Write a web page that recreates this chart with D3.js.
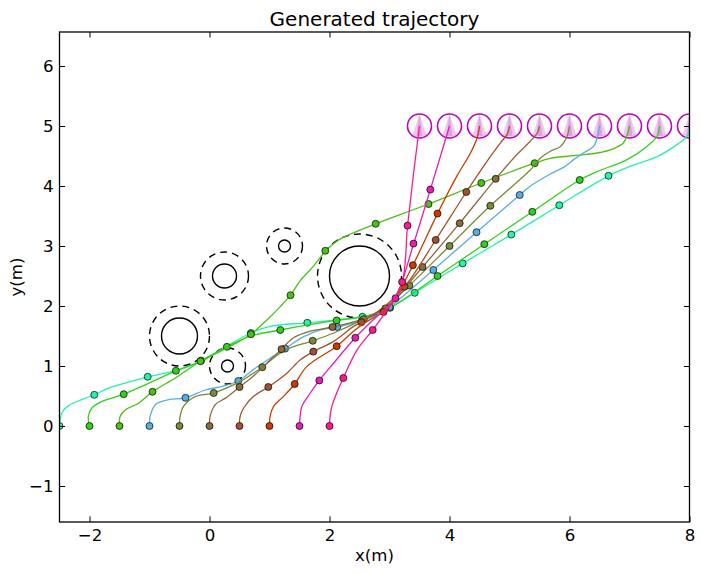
<!DOCTYPE html>
<html lang="en">
<head>
  <meta charset="UTF-8" />
  <title>Generated trajectory</title>
  <script src="https://d3js.org/d3.v7.min.js"></script>
  <style>
    body { margin: 0; background: #fff; }
    svg { display: block; font-family: "DejaVu Sans", sans-serif; }
  </style>
</head>
<body>
  <svg id="chart" width="702" height="574"></svg>

  <script>
    // axis ticks
    const xTicks = [-2, 0, 2, 4, 6, 8];
    const yTicks = [-1, 0, 1, 2, 3, 4, 5, 6];

    // obstacles: centre, solid radius, dashed (safety) radius
    const obstacleX = [2.5, -0.5, 0.25, 1.25, 0.3];
    const obstacleY = [2.5, 1.5, 2.5, 3.0, 1.0];
    const obstacleR = [0.5, 0.3, 0.2, 0.1, 0.1];
    const safetyR   = [0.7, 0.5, 0.4, 0.3, 0.3];

    // goals
    const goalX = [3.5, 4, 4.5, 5, 5.5, 6, 6.5, 7, 7.5, 8];
    const goalY = 5;
    const goalR = 0.2;

    // trajectory colours, start x = -2.5 ... 2
    const trajColors = ["#22f5a6", "#2fd11c", "#4bc114", "#5aade0", "#7a8a3a",
                        "#8b6a3e", "#a3522b", "#c83c00", "#e61eb4", "#ff1a8c"];

    // paths
    const path0 = [[-2.5,0],[-2.46,0.22],[-2.35,0.34],[-2.13,0.44],[-1.92,0.52],[-1.68,0.63],[-1.35,0.73],[-1.03,0.82],[-0.74,0.88],[-0.35,0.99],[-0.14,1.09],[0.2,1.28],[0.69,1.55],[1.01,1.66],[1.63,1.72],[2.12,1.77],[2.55,1.82],[2.85,1.9],[3.05,2.0],[3.42,2.22],[4.22,2.71],[5.03,3.19],[5.83,3.68],[6.65,4.17],[7.01,4.33],[7.46,4.49],[7.79,4.69],[7.96,4.83],[8,5]];
    const marks0 = [[-2.5,0],[-1.92,0.52],[-1.03,0.82],[-0.14,1.09],[0.69,1.55],[1.63,1.72],[2.55,1.82],[3.42,2.22],[4.22,2.71],[5.03,3.19],[5.83,3.68],[6.65,4.17]];

    const path1 = [[-2,0],[-2.02,0.16],[-1.96,0.3],[-1.79,0.41],[-1.43,0.53],[-1.13,0.66],[-0.56,0.92],[-0.1,1.1],[0.29,1.32],[0.69,1.5],[1.18,1.6],[1.62,1.68],[2.12,1.76],[2.6,1.83],[3.01,1.97],[3.8,2.5],[4.58,3.03],[5.38,3.57],[6.17,4.1],[6.46,4.24],[6.96,4.44],[7.29,4.66],[7.46,4.83],[7.5,5]];
    const marks1 = [[-2,0],[-1.43,0.53],[-0.56,0.92],[0.29,1.32],[1.18,1.6],[2.12,1.76],[3.01,1.97],[3.8,2.5],[4.58,3.03],[5.38,3.57],[6.17,4.1]];

    const path2 = [[-1.5,0],[-1.49,0.16],[-1.4,0.27],[-1.18,0.38],[-0.95,0.57],[-0.57,0.8],[-0.15,1.08],[0.29,1.3],[0.69,1.53],[0.96,1.77],[1.18,1.99],[1.35,2.18],[1.51,2.42],[1.73,2.66],[1.93,2.91],[2.12,3.08],[2.35,3.2],[2.77,3.37],[3.65,3.7],[4.53,4.05],[5.42,4.38],[5.68,4.46],[6.12,4.51],[6.46,4.55],[6.73,4.62],[6.9,4.72],[6.97,4.88],[7,5]];
    const marks2 = [[-1.5,0],[-0.95,0.57],[-0.15,1.08],[0.69,1.53],[1.35,2.18],[1.93,2.92],[2.77,3.37],[3.65,3.7],[4.53,4.05],[5.42,4.38]];

    const path3 = [[-1,0],[-0.99,0.16],[-0.9,0.36],[-0.68,0.44],[-0.4,0.47],[-0.07,0.6],[0.21,0.66],[0.48,0.75],[0.73,0.94],[1.01,1.13],[1.26,1.29],[1.57,1.49],[1.84,1.6],[2.13,1.65],[2.55,1.76],[2.85,1.88],[3.0,1.98],[3.73,2.6],[4.45,3.23],[5.17,3.85],[5.35,4.0],[5.68,4.2],[5.9,4.31],[6.07,4.44],[6.23,4.55],[6.4,4.66],[6.47,4.83],[6.5,5]];
    const marks3 = [[-1,0],[-0.4,0.47],[0.48,0.75],[1.26,1.29],[2.13,1.65],[3.0,1.98],[3.73,2.6],[4.45,3.23],[5.17,3.85]];

    const path4 = [[-0.5,0],[-0.49,0.16],[-0.43,0.33],[-0.24,0.49],[0.07,0.55],[0.3,0.64],[0.51,0.74],[0.7,0.86],[0.88,0.98],[1.1,1.16],[1.29,1.28],[1.72,1.42],[2.07,1.55],[2.57,1.78],[2.95,1.99],[3.33,2.34],[4.0,3.0],[4.68,3.67],[5.35,4.27],[5.52,4.47],[5.68,4.58],[5.85,4.66],[5.96,4.83],[6,5]];
    const marks4 = [[-0.5,0],[0.07,0.55],[0.88,0.98],[1.72,1.42],[2.57,1.78],[3.33,2.34],[4.0,3.0],[4.68,3.67]];

    const path5 = [[0,0],[0.01,0.16],[0.1,0.36],[0.26,0.46],[0.5,0.65],[0.73,0.83],[1.01,1.1],[1.2,1.28],[1.4,1.47],[1.68,1.58],[2.05,1.65],[2.51,1.77],[2.93,1.96],[3.55,2.65],[4.17,3.38],[4.77,4.12],[5.12,4.52],[5.35,4.75],[5.46,4.88],[5.5,5]];
    const marks5 = [[0,0],[0.5,0.65],[1.2,1.28],[2.05,1.65],[2.93,1.96],[3.55,2.65],[4.17,3.38],[4.77,4.12]];

    const path6 = [[0.5,0],[0.51,0.16],[0.57,0.3],[0.73,0.49],[0.98,0.65],[1.29,0.88],[1.51,1.1],[1.73,1.24],[2.07,1.41],[2.4,1.66],[2.53,1.73],[2.85,1.94],[3.25,2.32],[3.77,3.1],[4.28,3.9],[4.68,4.49],[4.85,4.72],[4.96,4.86],[5,5]];
    const marks6 = [[0.5,0],[0.98,0.65],[1.73,1.24],[2.53,1.73],[3.25,2.32],[3.77,3.1],[4.28,3.9]];

    const path7 = [[1,0],[1.01,0.16],[1.07,0.33],[1.23,0.49],[1.42,0.7],[1.62,0.99],[2.12,1.33],[2.4,1.58],[2.62,1.74],[2.9,1.9],[3.05,2.05],[3.39,2.68],[3.8,3.54],[4.12,4.16],[4.35,4.55],[4.46,4.8],[4.5,5]];
    const marks7 = [[1,0],[1.42,0.7],[2.12,1.33],[2.9,1.9],[3.39,2.68],[3.8,3.54]];

    const path8 = [[1.5,0],[1.51,0.16],[1.54,0.33],[1.68,0.55],[1.83,0.76],[2.07,1.05],[2.43,1.47],[2.73,1.77],[2.95,1.97],[3.1,2.13],[3.4,3.03],[3.68,3.94],[3.85,4.5],[4,5]];
    const marks8 = [[1.5,0],[1.83,0.76],[2.43,1.47],[3.1,2.13],[3.4,3.04],[3.68,3.94]];

    const path9 = [[2,0],[2.01,0.16],[2.04,0.33],[2.12,0.55],[2.23,0.8],[2.46,1.27],[2.72,1.6],[2.96,1.94],[3.21,2.4],[3.3,3.33],[3.4,4.2],[3.5,5]];
    const marks9 = [[2,0],[2.23,0.8],[2.72,1.6],[3.21,2.4],[3.3,3.34]];

    const paths = [path0, path1, path2, path3, path4, path5, path6, path7, path8, path9];
    const marks = [marks0, marks1, marks2, marks3, marks4, marks5, marks6, marks7, marks8, marks9];

    const svg = d3.select("#chart");
    const plotLeft = 59.5, plotRight = 689.5, plotTop = 32, plotBottom = 522;

    const x = d3.scaleLinear().domain([-2.5, 8]).range([plotLeft, plotRight]);
    const y = d3.scaleLinear().domain([-1.6, 6.5667]).range([plotBottom, plotTop]);
    const unit = x(1) - x(0);

    svg.append("defs").append("clipPath").attr("id", "plot-clip")
      .append("rect").attr("x", plotLeft).attr("y", plotTop)
      .attr("width", plotRight - plotLeft).attr("height", plotBottom - plotTop);

    const plot = svg.append("g").attr("clip-path", "url(#plot-clip)");

    // obstacles
    const obs = obstacleX.map((d, i) => ({ x: d, y: obstacleY[i], r: obstacleR[i], s: safetyR[i] }));
    plot.selectAll("circle.safety").data(obs).join("circle")
      .attr("class", "safety")
      .attr("cx", d => x(d.x)).attr("cy", d => y(d.y)).attr("r", d => d.s * unit)
      .attr("fill", "none").attr("stroke", "#000").attr("stroke-width", 1.4)
      .attr("stroke-dasharray", "7,5");
    plot.selectAll("circle.obstacle").data(obs).join("circle")
      .attr("class", "obstacle")
      .attr("cx", d => x(d.x)).attr("cy", d => y(d.y)).attr("r", d => d.r * unit)
      .attr("fill", "none").attr("stroke", "#000").attr("stroke-width", 1.4);

    // goals with heading cone
    const goals = plot.selectAll("g.goal").data(goalX).join("g").attr("class", "goal");
    goals.append("path")
      .attr("d", d => `M${x(d)},${y(goalY + goalR)}L${x(d - 0.12)},${y(goalY - goalR + 0.03)}L${x(d + 0.12)},${y(goalY - goalR + 0.03)}Z`)
      .attr("fill", "#efc6ef");
    goals.append("path")
      .attr("d", d => `M${x(d)},${y(goalY + goalR)}L${x(d - 0.05)},${y(goalY - goalR + 0.03)}L${x(d + 0.05)},${y(goalY - goalR + 0.03)}Z`)
      .attr("fill", "#dfa2df");
    goals.append("circle")
      .attr("cx", d => x(d)).attr("cy", y(goalY)).attr("r", goalR * unit)
      .attr("fill", "none").attr("stroke", "#bf00bf").attr("stroke-width", 1.6);

    // trajectories
    const line = d3.line().x(d => x(d[0])).y(d => y(d[1])).curve(d3.curveCatmullRom.alpha(0.5));
    paths.forEach((p, i) => {
      const t = plot.append("g").attr("class", "traj");
      t.append("path").attr("d", line(p))
        .attr("fill", "none").attr("stroke", trajColors[i]).attr("stroke-width", 1.3);
      t.selectAll("circle").data(marks[i]).join("circle")
        .attr("cx", d => x(d[0])).attr("cy", d => y(d[1])).attr("r", 3.5)
        .attr("fill", trajColors[i]).attr("stroke", "#000").attr("stroke-width", 0.7);
    });

    // axes, ticks pointing inwards on all four sides
    const fmt = d => d < 0 ? "\u2212" + Math.abs(d) : String(d);
    const styleAxis = g => {
      g.select(".domain").remove();
      g.selectAll(".tick line").attr("stroke", "#000").attr("stroke-width", 1);
      g.attr("font-size", 16.6).attr("font-family", "DejaVu Sans");
      g.selectAll("text").attr("fill", "#000");
    };
    svg.append("g").attr("transform", `translate(0,${plotBottom})`)
      .call(d3.axisBottom(x).tickValues(xTicks).tickSizeInner(-5.6).tickSizeOuter(0).tickPadding(7).tickFormat(fmt))
      .call(styleAxis);
    svg.append("g").attr("transform", `translate(0,${plotTop})`)
      .call(d3.axisTop(x).tickValues(xTicks).tickSizeInner(-5.6).tickSizeOuter(0).tickFormat(""))
      .call(styleAxis);
    svg.append("g").attr("transform", `translate(${plotLeft},0)`)
      .call(d3.axisLeft(y).tickValues(yTicks).tickSizeInner(-5.6).tickSizeOuter(0).tickPadding(6).tickFormat(fmt))
      .call(styleAxis);
    svg.append("g").attr("transform", `translate(${plotRight},0)`)
      .call(d3.axisRight(y).tickValues(yTicks).tickSizeInner(-5.6).tickSizeOuter(0).tickFormat(""))
      .call(styleAxis);

    svg.append("rect").attr("x", plotLeft).attr("y", plotTop)
      .attr("width", plotRight - plotLeft).attr("height", plotBottom - plotTop)
      .attr("fill", "none").attr("stroke", "#000").attr("stroke-width", 1.3);

    // labels
    svg.append("text").attr("x", (plotLeft + plotRight) / 2).attr("y", 25.5)
      .attr("text-anchor", "middle").attr("font-size", 20).text("Generated trajectory");
    svg.append("text").attr("x", (plotLeft + plotRight) / 2).attr("y", 561)
      .attr("text-anchor", "middle").attr("font-size", 16.6).text("x(m)");
    svg.append("text").attr("transform", `translate(22,${(plotTop + plotBottom) / 2}) rotate(-90)`)
      .attr("text-anchor", "middle").attr("font-size", 16.6).text("y(m)");
  </script>
</body>
</html>
